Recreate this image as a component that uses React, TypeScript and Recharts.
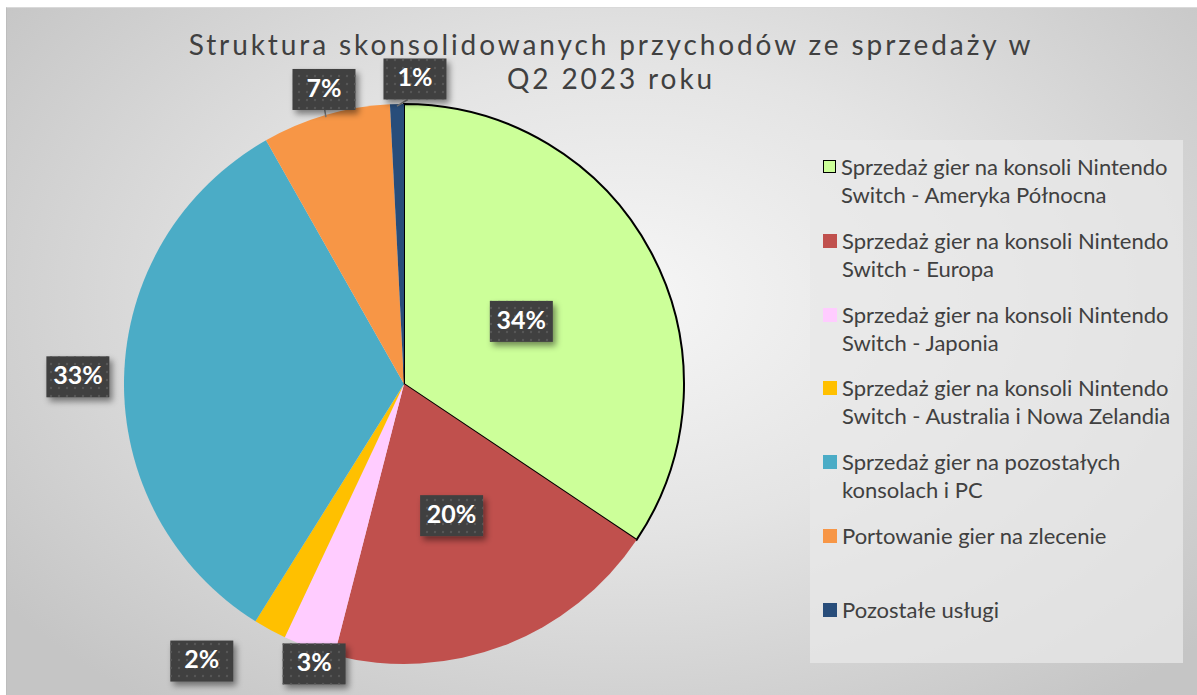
import { Cell, Legend, Pie, PieChart } from "recharts";

const categories = [
  "Sprzedaż gier na konsoli Nintendo Switch - Ameryka Północna",
  "Sprzedaż gier na konsoli Nintendo Switch - Europa",
  "Sprzedaż gier na konsoli Nintendo Switch - Japonia",
  "Sprzedaż gier na konsoli Nintendo Switch - Australia i Nowa Zelandia",
  "Sprzedaż gier na pozostałych konsolach i PC",
  "Portowanie gier na zlecenie",
  "Pozostałe usługi",
];
const shares = [34.4, 19.6, 3.0, 1.9, 32.9, 7.4, 0.8];

const COLORS = ["#ccff99", "#c0504d", "#ffccff", "#ffc000", "#4bacc6", "#f79646", "#284d7a"];
// label placement: radius factor, clockwise angle shift (deg), leader line
const LABEL_POS: [number, number, boolean][] = [
  [0.475, 0, false],
  [0.5, 1, false],
  [1.05, -2, false],
  [1.225, 7.5, false],
  [1.165, 0, false],
  [1.09, 1, true],
  [1.09, 3.5, true],
];

const data = categories.map((name, i) => ({ name, value: shares[i] }));

const RAD = Math.PI / 180;
const BOX_W = 63;
const BOX_H = 41;

function renderLabel(props: any) {
  const { cx, cy, midAngle, outerRadius, percent, index } = props;
  const [rf, shift, leader] = LABEL_POS[index];
  const ang = midAngle - shift;
  const r = outerRadius * rf;
  const x = cx + r * Math.cos(-ang * RAD);
  const y = cy + r * Math.sin(-ang * RAD);
  const ex = cx + outerRadius * Math.cos(-midAngle * RAD);
  const ey = cy + outerRadius * Math.sin(-midAngle * RAD);
  return (
    <g key={`lbl-${index}`}>
      {leader && (
        <line x1={ex} y1={ey + 2} x2={x + (ex - x) * 0.4} y2={y + BOX_H / 2} stroke="#7f7f7f" strokeWidth={1.5} />
      )}
      <g filter="url(#boxShadow)">
        <rect x={x - BOX_W / 2} y={y - BOX_H / 2} width={BOX_W} height={BOX_H} fill="#404040" />
        <rect x={x - BOX_W / 2} y={y - BOX_H / 2} width={BOX_W} height={BOX_H} fill="url(#dots)" />
      </g>
      <text
        x={x}
        y={y + 1}
        textAnchor="middle"
        dominantBaseline="middle"
        fill="#ffffff"
        fontFamily="Lato, sans-serif"
        fontWeight={700}
        fontSize={25}
      >
        {`${Math.round(percent * 100)}%`}
      </text>
    </g>
  );
}

function LegendBox() {
  return (
    <div
      style={{
        width: 373,
        height: 523,
        background: "rgba(232,232,232,0.75)",
        paddingTop: 13,
        boxSizing: "border-box",
        fontFamily: "Lato, sans-serif",
        fontSize: 22,
        color: "#404040",
      }}
    >
      {data.map((d, i) => (
        <div key={d.name} style={{ height: 73.8, display: "flex", alignItems: "flex-start" }}>
          <span
            style={{
              width: i === 0 ? 11 : 14,
              height: i === 0 ? 11 : 14,
              marginLeft: 13,
              marginTop: 7,
              marginRight: 5,
              flexShrink: 0,
              background: COLORS[i],
              border: i === 0 ? "1.5px solid #000" : "none",
            }}
          />
          <span style={{ lineHeight: "28px", width: 345, whiteSpace: "normal" }}>{d.name}</span>
        </div>
      ))}
    </div>
  );
}

export default function App() {
  return (
    <div
      style={{
        position: "absolute",
        left: 6,
        top: 7,
        width: 1191,
        height: 688,
        background: "radial-gradient(ellipse 65% 75% at 52% 42%, #f6f6f6 0%, #e4e4e4 45%, #c5c5c5 100%)",
        borderTop: "1px solid #d9d9d9",
        borderLeft: "1px solid #bdbdbd",
      }}
    >
      <div
        style={{
          position: "absolute",
          left: 0,
          top: 19,
          width: 1208,
          textAlign: "center",
          fontFamily: "Lato, sans-serif",
          fontSize: 28,
          letterSpacing: 2.9,
          lineHeight: "34px",
          color: "#404040",
        }}
      >
        Struktura skonsolidowanych przychodów ze sprzedaży w
        <br />Q2 2023 roku
      </div>
      <PieChart width={1191} height={688} margin={{ top: 0, right: 0, bottom: 0, left: 0 }}>
        <defs>
          <pattern id="dots" width="8" height="8" patternUnits="userSpaceOnUse">
            <circle cx="4" cy="4" r="1.2" fill="#575757" />
          </pattern>
          <filter id="boxShadow" x="-30%" y="-30%" width="170%" height="170%">
            <feDropShadow dx="3" dy="4" stdDeviation="3" floodColor="#000" floodOpacity="0.45" />
          </filter>
        </defs>
        <Pie
          data={data}
          dataKey="value"
          nameKey="name"
          cx={397}
          cy={376}
          outerRadius={280}
          startAngle={90}
          endAngle={-270}
          label={renderLabel}
          labelLine={false}
          isAnimationActive={false}
        >
          {data.map((d, i) => (
            <Cell
              key={d.name}
              fill={COLORS[i]}
              stroke={i === 0 ? "#000000" : "none"}
              strokeWidth={i === 0 ? 2 : 0}
            />
          ))}
        </Pie>
        <Legend
          layout="vertical"
          content={() => <LegendBox />}
          wrapperStyle={{ left: 803, top: 132, width: 373, height: 523 }}
        />
      </PieChart>
    </div>
  );
}
